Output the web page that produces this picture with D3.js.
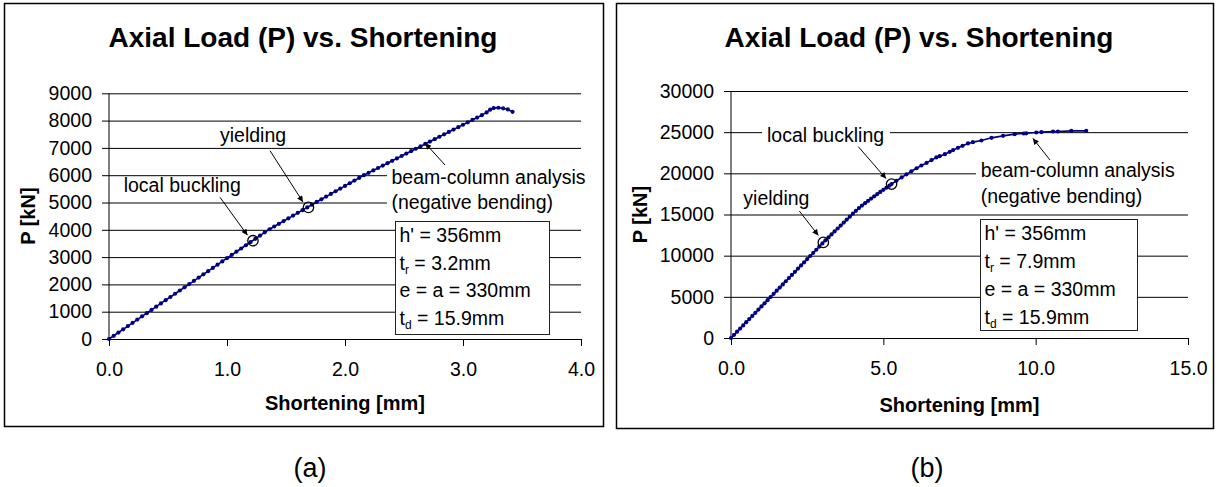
<!DOCTYPE html>
<html>
<head>
<meta charset="utf-8">
<script src="https://cdn.jsdelivr.net/npm/d3@7"></script>
<style>
  body { margin: 0; background: #fff; }
  svg { display: block; font-family: "Liberation Sans", Arial, Helvetica, sans-serif; }
  .frame { fill: none; stroke: #000; stroke-width: 1.5; }
  .grid line { stroke: #000; stroke-width: 1; shape-rendering: auto; }
  .series { fill: none; stroke: #000080; stroke-width: 1.6; }
  .dot { fill: #000080; }
  .event { fill: none; stroke: #000; stroke-width: 1.3; }
  .note { font-size: 19.5px; fill: #000; }
  .arrow { stroke: #000; stroke-width: 1; }
</style>
</head>
<body>
<svg id="chart" width="1218" height="487"></svg>
<script>
// ---- data ----

// (a) t_r = 3.2mm
const shortA = [0.00, 0.04, 0.08, 0.12, 0.16, 0.20, 0.24, 0.28, 0.32, 0.36, 0.40, 0.44, 0.48, 0.52, 0.56,
  0.60, 0.64, 0.68, 0.72, 0.76, 0.80, 0.84, 0.88, 0.92, 0.96, 1.00, 1.04, 1.08, 1.12, 1.16, 1.20,
  1.24, 1.28, 1.32, 1.36, 1.40, 1.44, 1.48, 1.52, 1.56, 1.60, 1.64, 1.68, 1.72, 1.76, 1.80, 1.84,
  1.88, 1.92, 1.96, 2.00, 2.04, 2.08, 2.12, 2.16, 2.20, 2.24, 2.28, 2.32, 2.36, 2.40, 2.44, 2.48,
  2.52, 2.56, 2.60, 2.64, 2.68, 2.72, 2.76, 2.80, 2.84, 2.88, 2.92, 2.96, 3.00, 3.04, 3.08, 3.12,
  3.16, 3.20, 3.23, 3.26, 3.30, 3.34, 3.38, 3.42];
const loadA = [0, 118, 237, 355, 474, 592, 710, 829, 947, 1066, 1184, 1302, 1421, 1539, 1658,
  1776, 1894, 2013, 2131, 2250, 2368, 2486, 2605, 2723, 2842, 2960, 3078, 3197, 3315, 3434, 3552,
  3670, 3789, 3907, 4020, 4120, 4220, 4320, 4420, 4520, 4620, 4720, 4820, 4920, 5020, 5118, 5216,
  5314, 5412, 5510, 5608, 5706, 5804, 5902, 6000, 6088, 6176, 6264, 6352, 6440, 6528, 6616, 6704,
  6792, 6880, 6968, 7056, 7144, 7232, 7320, 7408, 7496, 7584, 7672, 7760, 7848, 7936, 8024, 8112,
  8200, 8300, 8400, 8460, 8470, 8450, 8410, 8320];

// (b) t_r = 7.9mm
const shortB = [0.0, 0.1, 0.2, 0.3, 0.4, 0.5, 0.6, 0.7, 0.8, 0.9, 1.0, 1.1, 1.2, 1.3, 1.4, 1.5, 1.6,
  1.7, 1.8, 1.9, 2.0, 2.1, 2.2, 2.3, 2.4, 2.5, 2.6, 2.7, 2.8, 2.9, 3.0, 3.1, 3.2, 3.3, 3.4, 3.5,
  3.6, 3.7, 3.8, 3.9, 4.0, 4.1, 4.2, 4.3, 4.4, 4.5, 4.6, 4.7, 4.8, 4.9, 5.0, 5.1, 5.2, 5.27,
  5.43, 5.60, 5.76, 5.92, 6.09, 6.25, 6.42, 6.58, 6.74, 6.85, 7.02, 7.18, 7.29, 7.45, 7.60, 7.78,
  7.94, 8.22, 8.55, 8.93, 9.31, 9.61, 9.69, 10.02, 10.19, 10.57, 10.73, 11.17, 11.66];
const loadB = [0, 380, 770, 1150, 1530, 1920, 2300, 2680, 3060, 3450, 3830, 4210, 4600, 4980, 5360,
  5750, 6130, 6510, 6890, 7280, 7660, 8040, 8430, 8810, 9190, 9580, 9960, 10340, 10720, 11110,
  11490, 11860, 12220, 12580, 12940, 13300, 13660, 14020, 14380, 14740, 15100, 15450, 15780, 16080,
  16370, 16660, 16940, 17210, 17480, 17740, 18000, 18250, 18500, 18690,
  19100, 19500, 19880, 20250, 20620, 20950, 21270, 21600, 21930, 22090, 22330, 22610, 22820, 23100,
  23340, 23630, 23790, 23990, 24310, 24550, 24760, 24840, 24860, 24960, 25000, 25080, 25080, 25160, 25160];

// marked events (open circles): [yielding, local buckling]
const eventShortA = [1.69, 1.22];
const eventLoadA = [4820, 3600];
const eventShortB = [3.03, 5.27];
const eventLoadB = [11610, 18690];
// point on the curve the "beam-column analysis" arrow points at
const beamShortA = 2.68, beamLoadA = 7170;
const beamShortB = 9.91, beamLoadB = 24240;

// ticks
const xTicksA = [0, 1, 2, 3, 4];
const yTicksA = [0, 1000, 2000, 3000, 4000, 5000, 6000, 7000, 8000, 9000];
const xTicksB = [0, 5, 10, 15];
const yTicksB = [0, 5000, 10000, 15000, 20000, 25000, 30000];

const titleText = "Axial Load (P) vs. Shortening";
const xTitle = "Shortening [mm]";
const yTitle = "P [kN]";
const noteA = [["h' = 356mm"], ["t", "r", " = 3.2mm"], ["e = a = 330mm"], ["t", "d", " = 15.9mm"]];
const noteB = [["h' = 356mm"], ["t", "r", " = 7.9mm"], ["e = a = 330mm"], ["t", "d", " = 15.9mm"]];

/** One framed chart panel. */
class Panel {
    constructor(svg, cfg) {
        this.svg = svg;
        this.cfg = cfg;
        this.g = svg.append("g");
        this.x = d3.scaleLinear().domain(cfg.xDomain).range([cfg.plot.x0, cfg.plot.x1]);
        this.y = d3.scaleLinear().domain(cfg.yDomain).range([cfg.plot.y0, cfg.plot.y1]);
    }

    draw() {
        let c = this.cfg, g = this.g, x = this.x, y = this.y;

        g.append("rect").attr("class", "frame")
          .attr("x", c.box[0]).attr("y", c.box[1]).attr("width", c.box[2]).attr("height", c.box[3]);

        g.append("text")
          .attr("x", c.titleX).attr("y", 47)
          .attr("text-anchor", "middle")
          .attr("font-size", 28).attr("font-weight", "bold")
          .text(titleText);

        // gridlines + y labels (ticks stick out 7px to the left of the axis)
        let plotW = c.plot.x1 - c.plot.x0;
        let yAxis = g.append("g")
          .attr("class", "grid")
          .attr("transform", "translate(" + (c.plot.x0 - 7) + ",0)")
          .call(d3.axisLeft(y).tickValues(c.yTicks).tickSizeInner(-(plotW + 7)).tickSizeOuter(0)
                 .tickPadding(10).tickFormat(d3.format("d")));
        yAxis.select(".domain").remove();
        yAxis.selectAll("text").attr("font-size", 19.5).attr("font-family", null).attr("fill", "#000");

        // y axis line
        g.append("line").attr("class", "arrow")
          .attr("x1", c.plot.x0).attr("x2", c.plot.x0)
          .attr("y1", y(c.yDomain[1])).attr("y2", y(0));

        let xAxis = g.append("g")
          .attr("transform", "translate(0," + y(0) + ")")
          .call(d3.axisBottom(x).tickValues(c.xTicks).tickSizeInner(7).tickSizeOuter(0)
                 .tickPadding(16).tickFormat(d3.format(".1f")));
        xAxis.selectAll("text").attr("font-size", 19.5).attr("font-family", null).attr("fill", "#000");
        xAxis.selectAll("line, path").attr("stroke", "#000");

        // axis titles
        g.append("text")
          .attr("x", (c.plot.x0 + c.plot.x1) / 2).attr("y", c.xTitleY)
          .attr("text-anchor", "middle").attr("font-size", 20).attr("font-weight", "bold")
          .text(xTitle);
        g.append("text")
          .attr("transform", "translate(" + (c.box[0] + 30) + "," + (c.plot.y0 + c.plot.y1) / 2 + ") rotate(-90)")
          .attr("text-anchor", "middle").attr("font-size", 20).attr("font-weight", "bold")
          .text(yTitle);

        // white boxes under the annotation text (they hide the gridlines)
        c.blanks.forEach(b => {
            g.append("rect").attr("x", b[0]).attr("y", b[1]).attr("width", b[2]).attr("height", b[3])
              .attr("fill", "#fff");
        });

        // the series
        let pts = c.xs.map((d, i) => [d, c.ys[i]]);
        g.append("path").attr("class", "series")
          .attr("d", d3.line().x(d => x(d[0])).y(d => y(d[1]))(pts));
        g.selectAll(".dot").data(pts).enter()
          .append("circle").attr("class", "dot")
          .attr("cx", d => x(d[0])).attr("cy", d => y(d[1])).attr("r", 2.1);

        // yielding / local buckling circles
        c.evX.forEach((d, i) => {
            g.append("circle").attr("class", "event")
              .attr("cx", x(d)).attr("cy", y(c.evY[i])).attr("r", 5.2);
        });

        // notes and arrows
        c.notes.forEach(n => {
            g.append("text").attr("class", "note").attr("x", n[0]).attr("y", n[1]).text(n[2]);
        });
        c.arrows.forEach(a => {
            g.append("line").attr("class", "arrow")
              .attr("x1", a.from[0]).attr("y1", a.from[1])
              .attr("x2", x(a.at[0]) + a.off[0]).attr("y2", y(a.at[1]) + a.off[1])
              .attr("marker-end", "url(#head)");
        });

        // parameter box
        let tb = c.textBox;
        g.append("rect").attr("x", tb.x).attr("y", tb.y).attr("width", tb.w).attr("height", tb.h)
          .attr("fill", "#fff").attr("stroke", "#222").attr("stroke-width", 1);
        c.boxLines.forEach((ln, i) => {
            let t = g.append("text").attr("class", "note")
              .attr("x", tb.x + 4).attr("y", tb.base[i]);
            if (ln.length === 1) {
                t.text(ln[0]);
            } else {
                t.append("tspan").text(ln[0]);
                t.append("tspan").attr("font-size", 12).attr("dy", 4).text(ln[1]);
                t.append("tspan").attr("dy", -4).text(ln[2]);
            }
        });

        g.append("text")
          .attr("x", c.capX).attr("y", 477).attr("text-anchor", "middle").attr("font-size", 27)
          .text(c.caption);
    }
}

let svg = d3.select("#chart");
svg.append("rect").attr("width", 1218).attr("height", 487).attr("fill", "#fff");
svg.append("defs").append("marker")
  .attr("id", "head").attr("viewBox", "0 0 10 10").attr("refX", 10).attr("refY", 5)
  .attr("markerWidth", 7).attr("markerHeight", 6).attr("markerUnits", "userSpaceOnUse")
  .attr("orient", "auto")
  .append("path").attr("d", "M0,0L10,5L0,10z").attr("fill", "#000");

new Panel(svg, {
    box: [4.5, 3.5, 599, 423],
    plot: {x0: 109, x1: 581, y0: 339, y1: 93.3},
    xDomain: [0, 4], yDomain: [0, 9000],
    xTicks: xTicksA, yTicks: yTicksA,
    xs: shortA, ys: loadA, evX: eventShortA, evY: eventLoadA,
    titleX: 303, xTitleY: 410, capX: 310, caption: "(a)",
    blanks: [[387, 164, 205, 51]],
    notes: [[220, 141.7, "yielding"], [123.7, 191.7, "local buckling"],
            [391.5, 184, "beam-column analysis"], [391.5, 209, "(negative bending)"]],
    arrows: [
        {from: [270, 150.7], at: [eventShortA[0], eventLoadA[0]], off: [-5.5, -5.5]},
        {from: [220, 197.3], at: [eventShortA[1], eventLoadA[1]], off: [-5.5, -5.5]},
        {from: [445, 165], at: [beamShortA, beamLoadA], off: [0, 0]}
    ],
    textBox: {x: 395.5, y: 221.5, w: 154, h: 113, base: [241.7, 270, 297.3, 325]},
    boxLines: noteA
}).draw();

new Panel(svg, {
    box: [616.5, 3.5, 597, 425],
    plot: {x0: 731, x1: 1188, y0: 338, y1: 91},
    xDomain: [0, 15], yDomain: [0, 30000],
    xTicks: xTicksB, yTicks: yTicksB,
    xs: shortB, ys: loadB, evX: eventShortB, evY: eventLoadB,
    titleX: 919, xTitleY: 411.5, capX: 927, caption: "(b)",
    blanks: [[762, 124, 128, 23], [976, 157, 220, 51]],
    notes: [[743.3, 205, "yielding"], [767, 142.3, "local buckling"],
            [980.7, 176.7, "beam-column analysis"], [980.7, 203.3, "(negative bending)"]],
    arrows: [
        {from: [799.3, 211], at: [eventShortB[0], eventLoadB[0]], off: [-5, -7]},
        {from: [858.3, 146.7], at: [eventShortB[1], eventLoadB[1]], off: [-5.5, -5.5]},
        {from: [1050, 160], at: [beamShortB, beamLoadB], off: [0, 0]}
    ],
    textBox: {x: 980.5, y: 219.5, w: 157, h: 111, base: [240, 268.3, 296, 324]},
    boxLines: noteB
}).draw();
</script>
</body>
</html>
